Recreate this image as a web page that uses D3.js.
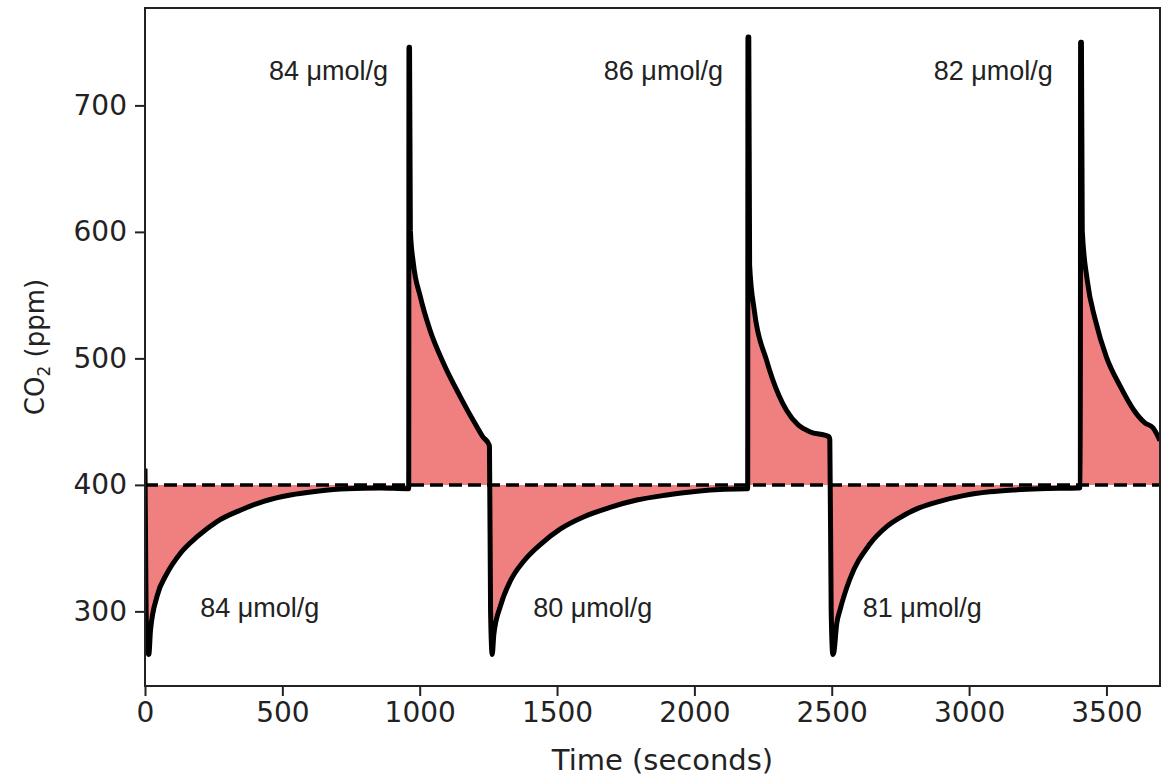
<!DOCTYPE html>
<html>
<head>
<meta charset="utf-8">
<script src="https://cdn.jsdelivr.net/npm/d3@7"></script>
<style>
  body { margin: 0; background: #fff; }
  svg { display: block; }
</style>
</head>
<body>
<div id="chart"></div>
<script>
// CO2 breakthrough trace
const timeSec = [
    0, 4, 10, 14, 20, 44, 80, 129, 190, 262, 347, 432, 529, 626, 735, 856, 955,
    960, 961, 963, 966, 977, 1002, 1038, 1087, 1147, 1208, 1230, 1252,
    1254, 1258, 1264, 1270, 1295, 1330, 1380, 1440, 1511, 1600, 1690, 1790, 1900, 2010, 2110, 2190,
    2194, 2195, 2198, 2201, 2218, 2262, 2307, 2335, 2380, 2420, 2490,
    2493, 2498, 2504, 2508, 2518, 2530, 2565, 2638, 2700, 2747, 2820, 2893, 2980, 3075, 3160, 3257, 3400,
    3405, 3406, 3409, 3412, 3430, 3460, 3500, 3550, 3600, 3640, 3670, 3695
];
const co2Ppm = [
    413, 300, 268, 266, 285, 312, 330, 346, 359, 371, 380, 387, 392, 395, 397, 397.5, 397,
    397, 746, 746, 601, 575, 549, 522, 496, 470, 446, 438, 432,
    430, 300, 266, 282, 305, 324, 340, 353, 365, 375, 382, 388, 392, 395, 396.5, 397,
    397, 754, 754, 574, 538, 499, 471, 459, 447, 442, 438,
    436, 300, 266, 268, 290, 301, 325, 353, 367, 374, 382, 387, 391.5, 394.5, 396, 397, 397.5,
    398, 750, 750, 601, 562, 530, 501, 478, 459, 449, 445, 435
];

const baseline = 400;

const labelText = ['84 μmol/g', '86 μmol/g', '82 μmol/g', '84 μmol/g', '80 μmol/g', '81 μmol/g'];
const labelTime = [885, 2104, 3305, 201, 1413, 2613];
const labelPpm = [720, 720, 720, 295.6, 295.6, 295.6];
const labelAnchor = ['end', 'end', 'end', 'start', 'start', 'start'];

const xTicks = [0, 500, 1000, 1500, 2000, 2500, 3000, 3500];
const yTicks = [300, 400, 500, 600, 700];

let width = 1173,
    height = 779,
    margin = {left: 145, top: 8, right: 13, bottom: 93},
    innerW = width - margin.left - margin.right,
    innerH = height - margin.top - margin.bottom;

let svg = d3.select('#chart').append('svg')
    .attr('width', width)
    .attr('height', height);

let g = svg.append('g')
    .attr('transform', `translate(${margin.left}, ${margin.top})`);

let x = d3.scaleLinear().domain([0, 3695]).range([0, innerW]);
let y = d3.scaleLinear().domain([241, 777]).range([innerH, 0]);

let data = timeSec.map((t, i) => ({t: t, v: co2Ppm[i]}));

g.append('clipPath').attr('id', 'clip')
    .append('rect').attr('width', innerW).attr('height', innerH);

let plot = g.append('g').attr('clip-path', 'url(#clip)');

plot.append('path')
    .datum(data)
    .attr('fill', '#f08080')
    .attr('d', d3.area()
        .x(d => x(d.t))
        .y0(y(baseline))
        .y1(d => y(d.v))
        .curve(d3.curveMonotoneX));

plot.append('line')
    .attr('x1', 0).attr('x2', innerW)
    .attr('y1', y(baseline)).attr('y2', y(baseline))
    .attr('stroke', '#000')
    .attr('stroke-width', 3.5)
    .attr('stroke-dasharray', '13,6');

plot.append('path')
    .datum(data)
    .attr('fill', 'none')
    .attr('stroke', '#000')
    .attr('stroke-width', 5)
    .attr('stroke-linejoin', 'round')
    .attr('d', d3.line()
        .x(d => x(d.t))
        .y(d => y(d.v))
        .curve(d3.curveMonotoneX));

g.selectAll('.note')
    .data(labelText)
    .join('text')
    .attr('class', 'note')
    .attr('x', (d, i) => x(labelTime[i]))
    .attr('y', (d, i) => y(labelPpm[i]))
    .attr('text-anchor', (d, i) => labelAnchor[i])
    .style('font-family', '"Liberation Sans", Arial, sans-serif')
    .style('font-size', '27px')
    .attr('fill', '#222')
    .text(d => d);

let xAxis = g.append('g')
    .attr('transform', `translate(0, ${innerH})`)
    .call(d3.axisBottom(x).tickValues(xTicks).tickSize(10).tickPadding(6).tickFormat(d3.format('d')));

let yAxis = g.append('g')
    .call(d3.axisLeft(y).tickValues(yTicks).tickSize(10).tickPadding(8));

[xAxis, yAxis].forEach(a => {
    a.selectAll('.domain').remove();
    a.selectAll('.tick line').attr('stroke', '#222').attr('stroke-width', 2);
    a.selectAll('.tick text')
        .style('font-family', '"DejaVu Sans", sans-serif')
        .style('font-size', '28px')
        .attr('fill', '#222');
});

g.append('rect')
    .attr('width', innerW)
    .attr('height', innerH)
    .attr('fill', 'none')
    .attr('stroke', '#222')
    .attr('stroke-width', 2);

svg.append('text')
    .attr('x', margin.left + innerW / 2 + 10)
    .attr('y', 770)
    .attr('text-anchor', 'middle')
    .style('font-family', '"DejaVu Sans", sans-serif')
    .style('font-size', '29px')
    .attr('fill', '#222')
    .text('Time (seconds)');

let yl = svg.append('text')
    .attr('transform', 'translate(44, 347) rotate(-90)')
    .attr('text-anchor', 'middle')
    .style('font-family', '"DejaVu Sans", sans-serif')
    .style('font-size', '26px')
    .attr('fill', '#222');
yl.append('tspan').text('CO');
yl.append('tspan').attr('font-size', '17px').attr('dy', 6).text('2');
yl.append('tspan').attr('dy', -6).text(' (ppm)');
</script>
</body>
</html>
